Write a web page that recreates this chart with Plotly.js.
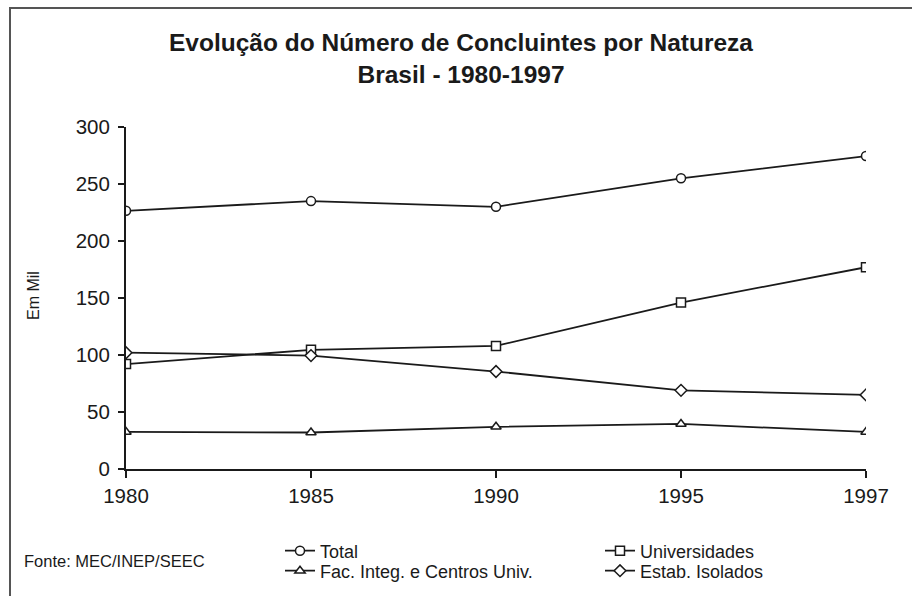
<!DOCTYPE html>
<html>
<head>
<meta charset="utf-8">
<script src="https://cdn.plot.ly/plotly-3.0.1.min.js"></script>
<style>
  html, body { margin: 0; padding: 0; background: #fff; }
  #wrap { position: relative; width: 912px; height: 596px; overflow: hidden; }
  #chart { width: 912px; height: 596px; }
  /* the outer frame of the original, only its left and top edges are visible */
  #frame {
    position: absolute; left: 9px; top: 7px; width: 960px; height: 640px;
    border-left: 2px solid #555; border-top: 2px solid #555;
    pointer-events: none;
  }
</style>
</head>
<body>
<div id="wrap">
  <div id="chart"></div>
  <div id="frame"></div>
</div>
<script>
// values in thousands (Em Mil)
const years = ['1980', '1985', '1990', '1995', '1997'];
const total = [226.5, 235, 230, 255, 274.5];
const universidades = [92, 104.5, 108, 146, 177];
const facInteg = [32.5, 32, 37, 39.5, 32.5];
const estabIsolados = [102, 99.5, 85.5, 69, 65];
const yTicks = [0, 50, 100, 150, 200, 250, 300];

const FONT = 'Liberation Sans, Arial, sans-serif';
const INK = '#1a1a1a';

// plot box in pixels, used to place things outside it
const M = { t: 127, r: 46, b: 127, l: 126 };
const W = 912, H = 596;
const plotW = W - M.l - M.r, plotH = H - M.t - M.b;

function series(name, y, symbol, legend) {
  return {
    name: name,
    x: years,
    y: y,
    type: 'scatter',
    mode: 'lines+markers',
    legend: legend,
    line: { color: INK, width: 1.8 },
    marker: {
      symbol: symbol,
      size: 9,
      color: '#fff',
      line: { color: INK, width: 1.5 },
    },
    hovertemplate: name + ' %{x}: %{y}<extra></extra>',
  };
}

const traces = [
  series('Total', total, 'circle', 'legend'),
  series('Universidades', universidades, 'square', 'legend2'),
  series('Fac. Integ. e Centros Univ.', facInteg, 'triangle-up', 'legend3'),
  series('Estab. Isolados', estabIsolados, 'diamond', 'legend4'),
];

// one legend per entry so the 2x2 grid sits where the original has it
function legendAt(px, py) {
  return {
    orientation: 'v',
    xref: 'container', yref: 'container',
    xanchor: 'left', yanchor: 'middle',
    x: px / W,
    y: 1 - py / H,
    font: { family: FONT, size: 18, color: INK },
    bgcolor: 'rgba(0,0,0,0)',
    borderwidth: 0,
    itemclick: false,
    itemdoubleclick: false,
  };
}

const layout = {
  width: W,
  height: H,
  margin: Object.assign({ autoexpand: false }, M),
  paper_bgcolor: '#fff',
  plot_bgcolor: '#fff',
  font: { family: FONT, size: 18, color: INK },
  title: {
    text: '<b>Evolução do Número de Concluintes por Natureza<br>Brasil - 1980-1997</b>',
    font: { family: FONT, size: 24.5, color: INK },
    xref: 'container', yref: 'container',
    x: 461 / W, xanchor: 'center',
    y: 1 - 51 / H, yanchor: 'top',
  },
  xaxis: {
    type: 'category',
    range: [0, years.length - 1],
    showgrid: false,
    zeroline: false,
    showline: true,
    linecolor: INK,
    linewidth: 2,
    ticks: 'outside',
    ticklen: 7,
    tickwidth: 2,
    tickcolor: INK,
    tickangle: 0,
    ticklabelstandoff: 0,
    tickfont: { family: FONT, size: 20.5, color: INK },
  },
  // overlay axis only to make the x ticks cross the axis line
  xaxis2: {
    overlaying: 'x',
    anchor: 'y',
    side: 'bottom',
    type: 'linear',
    range: [0, years.length - 1],
    dtick: 1,
    showgrid: false,
    zeroline: false,
    showline: false,
    showticklabels: false,
    ticks: 'inside',
    ticklen: 7,
    tickwidth: 2,
    tickcolor: INK,
  },
  yaxis: {
    range: [0, 300],
    tickvals: yTicks,
    showgrid: false,
    zeroline: false,
    showline: true,
    linecolor: INK,
    linewidth: 2,
    ticks: 'outside',
    ticklen: 6,
    tickwidth: 2,
    tickcolor: INK,
    ticklabelstandoff: 4,
    tickfont: { family: FONT, size: 20.5, color: INK },
  },
  showlegend: true,
  legend: legendAt(280, 551),
  legend2: legendAt(600, 551),
  legend3: legendAt(280, 571),
  legend4: legendAt(600, 571),
  annotations: [
    {
      text: 'Em Mil',
      xref: 'paper', yref: 'paper',
      x: (33 - M.l) / plotW,
      y: (H - M.b - 296) / plotH,
      xanchor: 'center', yanchor: 'middle',
      textangle: -90,
      showarrow: false,
      font: { family: FONT, size: 16, color: INK },
    },
    {
      text: 'Fonte: MEC/INEP/SEEC',
      xref: 'paper', yref: 'paper',
      x: (22 - M.l) / plotW,
      y: (H - M.b - 561) / plotH,
      xanchor: 'left', yanchor: 'middle',
      showarrow: false,
      font: { family: FONT, size: 16.5, color: INK },
    },
  ],
};

const config = { displayModeBar: false, responsive: false };

Plotly.newPlot('chart', traces, layout, config);
</script>
</body>
</html>
